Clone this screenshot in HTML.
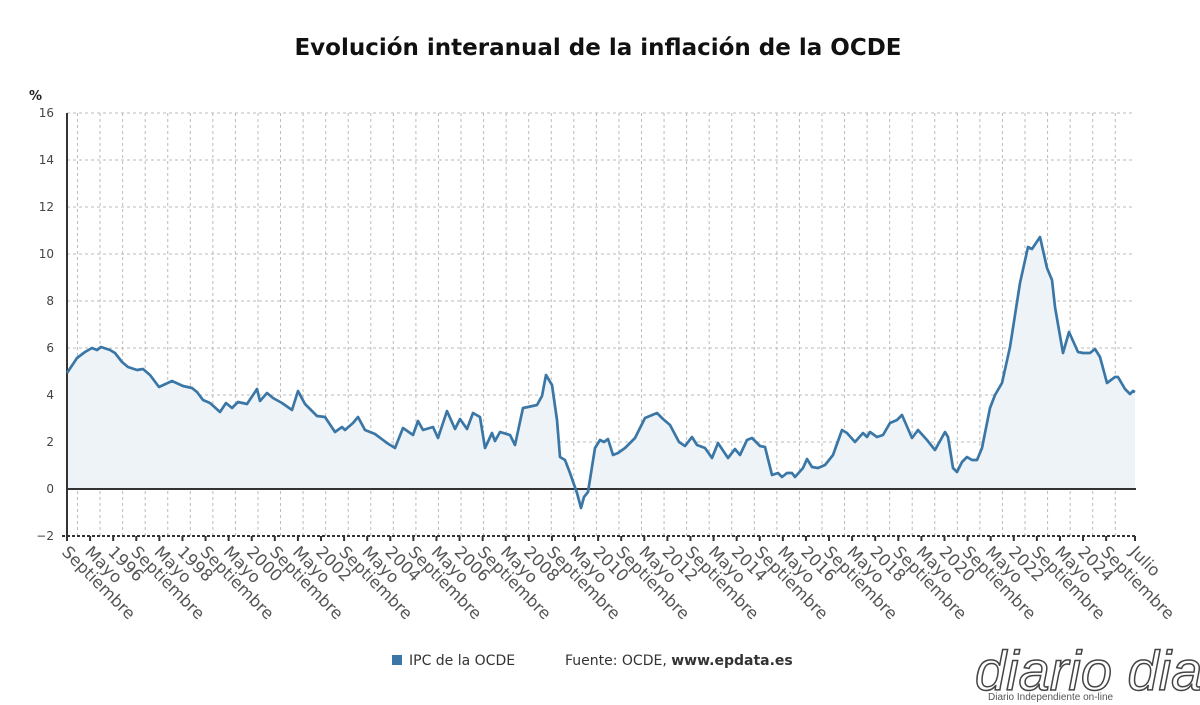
<!DOCTYPE html>
<html><head><meta charset="utf-8"><style>
html,body{margin:0;padding:0;background:#fff;}
svg{display:block;font-family:"DejaVu Sans","Liberation Sans",sans-serif;}
</style></head><body>
<svg id="s" width="1200" height="705" xmlns="http://www.w3.org/2000/svg">
<text x="598" y="55" text-anchor="middle" font-size="23" font-weight="bold" fill="#111">Evolución interanual de la inflación de la OCDE</text>
<text x="29" y="100" font-size="13" font-weight="bold" fill="#222">%</text>
<g id="grid"></g>
<path id="area" fill="#eef3f8" stroke="none"/>
<g font-size="12" fill="#444" text-anchor="end">
<text x="54" y="117">16</text><text x="54" y="164">14</text><text x="54" y="211">12</text><text x="54" y="258">10</text><text x="54" y="305">8</text><text x="54" y="352">6</text><text x="54" y="399">4</text><text x="54" y="446">2</text><text x="54" y="493">0</text><text x="54" y="540">−2</text>
</g>
<line x1="67" y1="489" x2="1136" y2="489" stroke="#333" stroke-width="2"/>
<line x1="67" y1="113" x2="67" y2="537" stroke="#333" stroke-width="2"/>
<line x1="62" y1="536" x2="1136" y2="536" stroke="#333" stroke-width="2" stroke-dasharray="3,2"/>
<g id="ticks"></g>
<polyline id="line" fill="none" stroke="#3a77a6" stroke-width="2.7" stroke-linejoin="round"/>
<g id="labels" font-size="16.5" fill="#555"></g>
<rect x="392" y="655" width="10" height="10" fill="#3a77a6"/>
<text x="409" y="665" font-size="14" fill="#333">IPC de la OCDE</text>
<text x="565" y="665" font-size="14" fill="#333">Fuente: OCDE, <tspan font-weight="bold">www.epdata.es</tspan></text>
<text x="975" y="690" font-size="56" font-style="italic" fill="#fff" stroke="#444" stroke-width="1.5" font-family="Liberation Sans,sans-serif">diario dia</text>
<text x="988" y="700" font-size="10" fill="#555" font-family="Liberation Sans,sans-serif">Diario Independiente on-line</text>
</svg>
<script>
const ns="http://www.w3.org/2000/svg";
function el(t,a,p){const e=document.createElementNS(ns,t);for(const k in a)e.setAttribute(k,a[k]);document.getElementById(p).appendChild(e);return e;}
[113,160,207,254,301,348,395,442].forEach(y=>el('line',{x1:67,x2:1135,y1:y,y2:y,stroke:'#bbb','stroke-dasharray':'3,3','stroke-width':1},'grid'));
for(let x=77.5;x<1135;x+=22.56)el('line',{x1:x,x2:x,y1:113,y2:536,stroke:'#bbb','stroke-dasharray':'3,3','stroke-width':1},'grid');
const step=1068/370*8;
const ticks=[];
for(let k=0;k<=45;k++)ticks.push([67+k*step,k%3==0?'Septiembre':k%3==1?'Mayo':String(1996+2*Math.floor(k/3))]);
ticks.push([1135,'Julio']);
ticks.forEach(([x,l])=>{el('line',{x1:x,x2:x,y1:536,y2:541,stroke:'#333','stroke-width':2},'ticks');
const t=el('text',{x:x-6,y:553,transform:`rotate(45 ${x-6} 553)`},'labels');t.textContent=l;});
const P=[[67,373],[77,358],[85,352],[92,348],[97,350],[101,347],[110,350],[115,353],[122,362],[128,367],[137,370],[143,369],[150,375],[159,387],[172,381],[183,386],[192,388],[197,392],[203,400],[210,403],[220,412],[226,403],[232,408],[238,402],[247,404],[257,389],[260,401],[267,393],[273,398],[282,403],[292,410],[298,391],[305,404],[317,416],[325,417],[327,420],[335,432],[342,427],[345,430],[353,423],[358,417],[365,430],[375,434],[387,443],[395,448],[403,428],[413,435],[418,421],[423,430],[433,427],[438,438],[447,411],[455,429],[460,419],[467,429],[473,413],[480,417],[485,448],[492,433],[495,441],[500,432],[510,435],[515,445],[523,408],[528,407],[537,405],[542,396],[546,375],[552,385],[557,420],[560,457],[565,460],[570,473],[577,493],[581,508],[584,497],[588,492],[595,448],[600,440],[604,442],[608,439],[613,455],[618,453],[625,448],[635,438],[645,418],[657,413],[663,419],[670,425],[679,442],[685,446],[692,437],[697,445],[705,448],[712,458],[718,443],[728,458],[735,449],[740,455],[747,440],[752,438],[760,446],[765,447],[772,475],[778,473],[782,477],[787,473],[792,473],[795,477],[803,468],[807,459],[812,467],[818,468],[825,465],[833,455],[842,430],[847,433],[855,442],[863,433],[867,437],[870,432],[877,437],[883,435],[890,423],[897,420],[902,415],[912,438],[918,430],[927,440],[935,450],[945,432],[948,437],[953,468],[957,472],[962,462],[967,457],[972,460],[977,460],[982,448],[990,408],[995,395],[1002,383],[1010,347],[1020,283],[1028,247],[1032,249],[1040,237],[1047,268],[1052,280],[1055,307],[1063,353],[1069,332],[1078,352],[1083,353],[1090,353],[1095,349],[1100,357],[1107,383],[1115,377],[1118,377],[1125,389],[1130,394],[1133,391],[1135,392]];
const pts=P.map(p=>p.join(',')).join(' ');
document.getElementById('line').setAttribute('points',pts);
document.getElementById('area').setAttribute('d','M67,489 L'+pts.replace(/ /g,' L')+' L1135,489 Z');
</script>
</body></html>
